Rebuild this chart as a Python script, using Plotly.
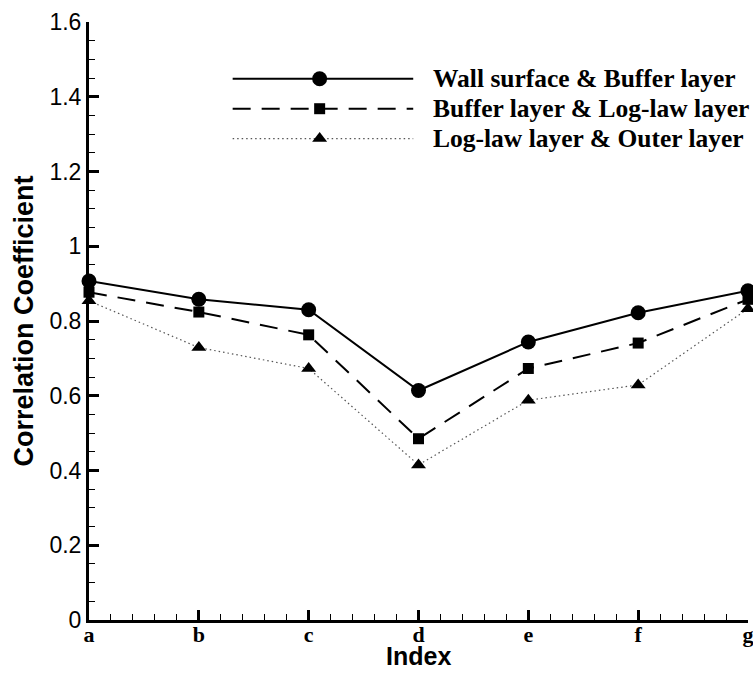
import plotly.graph_objects as go

categories = ["a", "b", "c", "d", "e", "f", "g"]
wall_buffer = [0.907, 0.858, 0.830, 0.614, 0.744, 0.822, 0.881]
buffer_loglaw = [0.877, 0.824, 0.763, 0.485, 0.673, 0.741, 0.858]
loglaw_outer = [0.854, 0.729, 0.673, 0.415, 0.588, 0.629, 0.833]
series_names = [
    "Wall surface & Buffer layer",
    "Buffer layer & Log-law layer",
    "Log-law layer & Outer layer",
]

x_pos = list(range(len(categories)))

styles = [
    dict(line=dict(color="black", width=2, dash="solid"),
         marker=dict(symbol="circle", size=15, color="black")),
    dict(line=dict(color="black", width=2, dash="18px,11px"),
         marker=dict(symbol="square", size=11, color="black")),
    dict(line=dict(color="#555555", width=1.2, dash="1.5px,3px"),
         marker=dict(symbol="triangle-up", size=13, color="black")),
]

fig = go.Figure()
for name, vals, st in zip(series_names, [wall_buffer, buffer_loglaw, loglaw_outer], styles):
    fig.add_trace(go.Scatter(
        x=x_pos, y=vals, mode="lines+markers", name=name,
        line=st["line"], marker=st["marker"], cliponaxis=False,
        showlegend=False,
    ))

# Legend key: line samples with a marker in the middle, drawn on an overlay axis
legend_rows = [0.905, 0.855, 0.805]
for name, yrow, st in zip(series_names, legend_rows, styles):
    fig.add_trace(go.Scatter(
        x=[0.218, 0.35, 0.492], y=[yrow] * 3, xaxis="x2", yaxis="y2",
        mode="lines", line=st["line"], showlegend=False, hoverinfo="skip",
    ))
    fig.add_trace(go.Scatter(
        x=[0.35], y=[yrow], xaxis="x2", yaxis="y2",
        mode="markers", marker=st["marker"], showlegend=False, hoverinfo="skip",
    ))
    fig.add_annotation(
        x=0.519, y=yrow, xref="x2", yref="y2", text=f"<b>{name}</b>",
        showarrow=False, xanchor="left", yanchor="middle",
        font=dict(family="Liberation Serif", size=25.5, color="black"),
    )

# x-axis title placed below the category labels
fig.add_annotation(
    x=0.5, y=-0.0605, xref="paper", yref="paper", text="<b>Index</b>",
    showarrow=False, xanchor="center", yanchor="middle", borderpad=0,
    font=dict(family="Liberation Sans", size=25, color="black"),
)

fig.update_layout(
    width=753, height=673,
    margin=dict(l=89, r=5, t=22, b=53, autoexpand=False),
    plot_bgcolor="white", paper_bgcolor="white",
    xaxis=dict(
        range=[0, 6], tickvals=x_pos,
        ticktext=[f"<b>{c}</b>" for c in categories],
        tickfont=dict(family="Liberation Serif", size=22, color="black"),
        ticklabeloverflow="allow", automargin=False, ticklabelstandoff=-7,
        ticks="inside", ticklen=10, tickwidth=3, tickcolor="black",
        minor=dict(ticks="inside", dtick=0.2, ticklen=6, tickwidth=1, tickcolor="black"),
        showline=True, linecolor="black", linewidth=3,
        showgrid=False, zeroline=False,
    ),
    yaxis=dict(
        range=[0, 1.6], tickvals=[0, 0.2, 0.4, 0.6, 0.8, 1.0, 1.2, 1.4, 1.6],
        ticktext=["0", "0.2", "0.4", "0.6", "0.8", "1", "1.2", "1.4", "1.6"],
        tickfont=dict(family="Liberation Sans", size=23, color="black"),
        ticklabeloverflow="allow", automargin=False,
        ticks="inside", ticklen=10, tickwidth=3, tickcolor="black",
        minor=dict(ticks="inside", dtick=0.05, ticklen=6, tickwidth=1, tickcolor="black"),
        showline=True, linecolor="black", linewidth=3,
        showgrid=False, zeroline=False,
        title=dict(text="<b>Correlation Coefficient</b>", standoff=8,
                   font=dict(family="Liberation Sans", size=27, color="black")),
    ),
    xaxis2=dict(range=[0, 1], overlaying="x", visible=False, domain=[0, 1]),
    yaxis2=dict(range=[0, 1], overlaying="y", visible=False, domain=[0, 1]),
)

fig.write_html("out.html")
